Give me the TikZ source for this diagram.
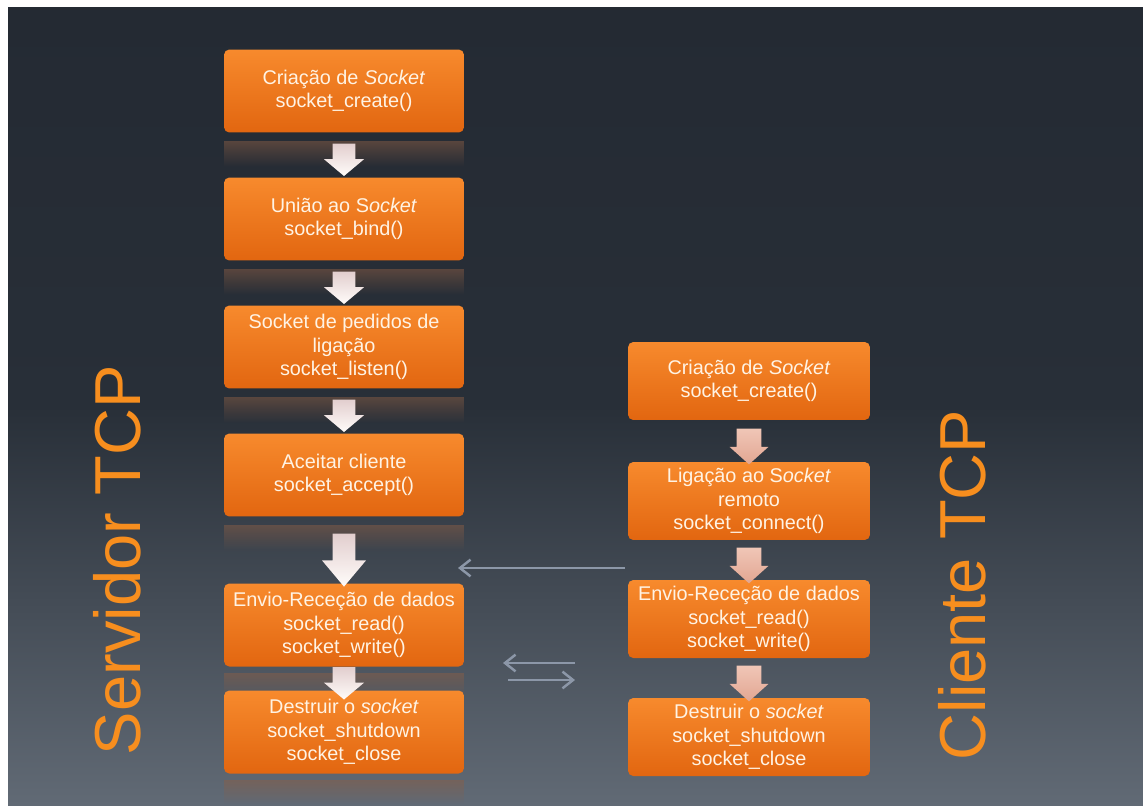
\documentclass[tikz,border=0pt]{standalone}
\usepackage{fontspec}
\setmainfont{Liberation Sans}
\usepackage{tikz}
\usetikzlibrary{positioning}
\usetikzlibrary{calc}
\usetikzlibrary{shapes.arrows}
\usetikzlibrary{arrows.meta}
\usetikzlibrary{fadings}
\pgfdeclarelayer{background}
\pgfdeclarelayer{foreground}
\pgfsetlayers{background,main,foreground}

\definecolor{bgtop}{RGB}{36,42,51}
\definecolor{bgmid}{RGB}{40,47,56}
\definecolor{bgbot}{RGB}{97,106,117}
\definecolor{boxtop}{RGB}{247,138,45}
\definecolor{boxbot}{RGB}{226,102,16}
\definecolor{boxtext}{RGB}{255,243,228}
\definecolor{titleor}{RGB}{247,142,30}
\definecolor{reflcol}{RGB}{140,95,70}
\definecolor{conncol}{RGB}{140,151,168}
\definecolor{sarrtop}{RGB}{226,206,206}
\definecolor{sarrbot}{RGB}{255,252,250}
\definecolor{carrtop}{RGB}{240,198,182}
\definecolor{carrbot}{RGB}{226,166,146}

\tikzfading[name=reflfade, top color=transparent!50, bottom color=transparent!100]

\tikzset{
	box/.style={rounded corners=3pt, top color=boxtop, bottom color=boxbot, text=boxtext,
		align=center, inner sep=0pt, font=\fontsize{11.3}{13.4}\selectfont},
	sbox/.style={box, minimum width=4.8cm, minimum height=1.66cm},
	cbox/.style={box, minimum width=4.84cm, minimum height=1.56cm},
	titletext/.style={text=titleor, font=\fontsize{37}{40}\selectfont, rotate=90, inner sep=0pt},
	downarrow/.style={single arrow, shape border rotate=270, draw=none, inner sep=6.3pt,
		single arrow head extend=5pt, single arrow tip angle=100},
	sarrow/.style={downarrow, top color=sarrtop, bottom color=sarrbot},
	carrow/.style={downarrow, inner sep=6.8pt, single arrow head extend=4pt,
		single arrow tip angle=96, top color=carrtop, bottom color=carrbot},
	conn/.style={draw=conncol, line width=1.4pt, -{Straight Barb[length=6pt, width=9.5pt]}}
}

\begin{document}
\begin{tikzpicture}[x=0.02cm, y=-0.02cm]
	\useasboundingbox (0,0) rectangle (1143,805);

	%Nodes
	\node[sbox] (s1) at (344,91)  {Criação de \textit{Socket}\\socket\_create()};
	\node[sbox] (s2) at (344,219) {União ao S\textit{ocket}\\socket\_bind()};
	\node[sbox] (s3) at (344,347) {Socket de pedidos de\\ligação\\socket\_listen()};
	\node[sbox] (s4) at (344,475) {Aceitar cliente\\socket\_accept()};
	\node[sbox] (s5) at (344,625) {Envio-Receção de dados\\socket\_read()\\socket\_write()};
	\node[sbox] (s6) at (344,732) {Destruir o \textit{socket}\\socket\_shutdown\\socket\_close};

	\node[cbox] (c1) at (749,381) {Criação de \textit{Socket}\\socket\_create()};
	\node[cbox] (c2) at (749,501) {Ligação ao S\textit{ocket}\\remoto\\socket\_connect()};
	\node[cbox] (c3) at (749,619) {Envio-Receção de dados\\socket\_read()\\socket\_write()};
	\node[cbox] (c4) at (749,737) {Destruir o \textit{socket}\\socket\_shutdown\\socket\_close};

	\node[titletext] (srv) at (117,560) {Servidor TCP};
	\node[titletext] (cli) at (962,585) {Cliente TCP};

	%Background and reflections (y grows downwards)
	\begin{pgfonlayer}{background}
		\fill[white] (0,0) rectangle (1143,805);
		\shade[top color=bgtop, bottom color=bgbot, middle color=bgmid] (8,7) rectangle (1143,805);
		\fill[reflcol, path fading=reflfade] ($(s1.south west)+(0,8)$) rectangle ($(s1.south east)+(0,34)$);
		\fill[reflcol, path fading=reflfade] ($(s2.south west)+(0,8)$) rectangle ($(s2.south east)+(0,34)$);
		\fill[reflcol, path fading=reflfade] ($(s3.south west)+(0,8)$) rectangle ($(s3.south east)+(0,34)$);
		\fill[reflcol, path fading=reflfade] ($(s4.south west)+(0,8)$) rectangle ($(s4.south east)+(0,34)$);
		\fill[reflcol, path fading=reflfade] ($(s5.south west)+(0,6)$) rectangle ($(s5.south east)+(0,30)$);
		\fill[reflcol, path fading=reflfade] ($(s6.south west)+(0,6)$) rectangle ($(s6.south east)+(0,30)$);
	\end{pgfonlayer}

	%Block arrows
	\node[sarrow, minimum height=0.62cm] (sa1) at ($(s1.south)!0.5!(s2.north)$) {};
	\node[sarrow, minimum height=0.62cm] (sa2) at ($(s2.south)!0.5!(s3.north)$) {};
	\node[sarrow, minimum height=0.6cm]  (sa3) at ($(s3.south)!0.5!(s4.north)$) {};
	\node[sarrow, minimum height=1.06cm, single arrow head extend=6pt, single arrow tip angle=80]
		(sa4) at ($(s4.south)!0.55!(s5.north)$) {};
	\node[sarrow, minimum height=0.4cm]  (sa5) at ($(s5.south)!0.5!(s6.north)$) {};

	\node[carrow, minimum height=0.64cm] (ca1) at ($(c1.south)!0.5!(c2.north)$) {};
	\node[carrow, minimum height=0.6cm]  (ca2) at ($(c2.south)!0.5!(c3.north)$) {};
	\node[carrow, minimum height=0.62cm] (ca3) at ($(c3.south)!0.5!(c4.north)$) {};

	%Lines
	\coordinate (cout) at (625,568);
	\coordinate (sin)  at (458,568);
	\coordinate (ra) at (575,663);
	\coordinate (la) at (503,663);
	\coordinate (lb) at (508,680);
	\coordinate (rb) at (575,680);
	\draw[conn] (cout) -- (sin);
	\draw[conn] (ra) -- (la);
	\draw[conn] (lb) -- (rb);

\end{tikzpicture}
\end{document}
